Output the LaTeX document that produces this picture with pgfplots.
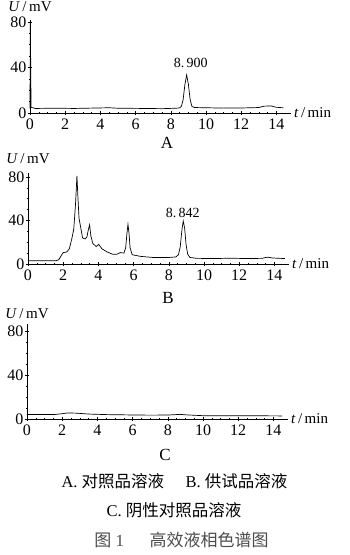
\documentclass[border=0pt]{standalone}
\usepackage{pgfplots}
\pgfplotsset{compat=1.18}
\usepackage{pgfplotstable}
\usepackage{fontspec}
\setmainfont{Liberation Serif}
\newfontfamily\cjk{Noto Sans CJK SC}

\pgfplotstableread{
t U
0 4
0.02 80
0.06 5
0.3 4
1.5 4.2
2.5 4
4.5 4.6
5 4.2
6.5 4
7.5 3.8
8.3 4.2
8.5 4.5
8.6 5.8
8.7 11.7
8.8 25
8.9 33.5
9.0 25
9.1 11.7
9.2 5.8
9.35 4.8
10 4.6
11 4.3
12 4.4
13 4.8
13.3 6
13.7 6.2
14.0 5
14.4 4.6
}\dataA

\pgfplotstableread{
t U
0 3
1.6 3
1.75 4
1.9 8
2.0 10.5
2.2 11
2.35 14
2.5 24
2.6 32
2.7 55
2.78 81
2.84 60
2.9 42
3.0 33
3.1 24
3.25 23
3.35 25
3.42 31
3.5 36
3.57 26
3.68 19
3.87 16
4.02 18
4.2 14
4.5 11
4.8 9
5.05 9
5.25 10.5
5.45 10
5.55 15
5.62 28
5.68 36.5
5.74 28
5.8 15
5.92 8.5
6.4 7
7.1 6
8.0 6
8.4 6.5
8.55 8.5
8.65 16
8.75 32
8.82 39.5
8.9 33
8.98 18
9.07 9
9.2 6
9.6 5.2
10.5 5
11.5 5.3
12.5 5
13.3 5.2
13.6 6.3
13.9 5.5
14.6 5
}\dataB

\pgfplotstableread{
t U
0 4
1.5 4
2.0 4.8
2.3 5.5
2.8 5.3
3.5 4.5
4.5 4
6.3 3.6
7 3.5
8 3.6
8.7 4.2
9 3.8
10 3
12 3
14.5 2.8
}\dataC

\pgfplotsset{chrom/.style={
  scale only axis, axis lines=left,
  axis line style={-, line width=0.6pt},
  xmin=0, xmax=14.8, ymin=0, width=260.5pt,
  xtick={0,2,...,14}, ytick={0,40,80},
  minor x tick num=3, minor y tick num=3,
  tick align=center, major tick length=4pt, minor tick length=2pt,
  tick style={black, line width=0.5pt},
  ticklabel style={font=\fontsize{16}{18}\selectfont},
  /pgf/number format/assume math mode=true,
  clip=false,
  xticklabel style={yshift=0pt},
  yticklabel style={xshift=2pt},
}}

\begin{document}
\begin{tikzpicture}
\path[use as bounding box] (0pt,0pt) rectangle (349pt,555pt);

% Panel A
\begin{axis}[chrom, at={(30pt,442pt)}, anchor=south west, ymax=82, height=93.3pt]
\addplot[black, line width=0.7pt] table[x=t,y=U] {\dataA};
\node[anchor=base, yshift=8pt, font=\fontsize{15}{17}\selectfont] at (rel axis cs:0,1) {\textit{U}\,/\,mV};
\node[anchor=west, font=\fontsize{15}{17}\selectfont] at (rel axis cs:1,0) {\textit{t}\,/\,min};
\node[font=\fontsize{14}{16}\selectfont] at (axis cs:9.13,43.7) {8.\,900};
\end{axis}

% Panel B
\begin{axis}[chrom, at={(28pt,291pt)}, anchor=south west, ymax=84, height=91.4pt]
\addplot[black, line width=0.7pt] table[x=t,y=U] {\dataB};
\node[anchor=base, yshift=9pt, font=\fontsize{15}{17}\selectfont] at (rel axis cs:0,1) {\textit{U}\,/\,mV};
\node[anchor=west, font=\fontsize{15}{17}\selectfont] at (rel axis cs:1,0) {\textit{t}\,/\,min};
\node[font=\fontsize{14}{16}\selectfont] at (axis cs:8.79,46.6) {8.\,842};
\end{axis}

% Panel C
\begin{axis}[chrom, at={(27pt,136pt)}, anchor=south west, ymax=86, height=94.6pt]
\addplot[black, line width=0.7pt] table[x=t,y=U] {\dataC};
\node[anchor=base, yshift=6pt, font=\fontsize{15}{17}\selectfont] at (rel axis cs:0,1) {\textit{U}\,/\,mV};
\node[anchor=west, font=\fontsize{15}{17}\selectfont] at (rel axis cs:1,0) {\textit{t}\,/\,min};
\end{axis}

% Panel letters
\node[font=\fontsize{17}{19}\selectfont] at (167pt,412pt) {A};
\node[font=\fontsize{17}{19}\selectfont] at (168pt,257pt) {B};
\node[font=\fontsize{17}{19}\selectfont] at (165pt,100pt) {C};

% Captions
\node[font=\fontsize{16.5}{19}\selectfont] at (174.5pt,73.5pt) {A.\ {\cjk 对照品溶液}\hspace{1.3em}B.\ {\cjk 供试品溶液}};
\node[font=\fontsize{16.5}{19}\selectfont] at (174pt,45pt) {C.\ {\cjk 阴性对照品溶液}};
\node[font=\fontsize{17}{19}\selectfont, text=black!70] at (181.5pt,15pt) {{\cjk 图}\ 1\hspace{1.5em}{\cjk 高效液相色谱图}};
\end{tikzpicture}
\end{document}
